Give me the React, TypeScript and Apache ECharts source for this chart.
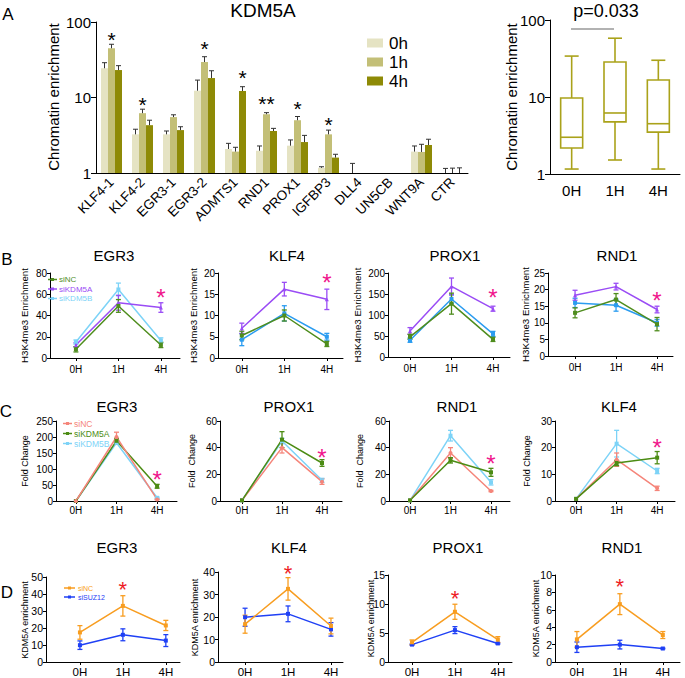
import React, { useEffect, useRef } from 'react';
import * as echarts from 'echarts';

const FONT = '"Liberation Sans", Arial, Helvetica, sans-serif';

// ---------- Panel A: bar chart (log scale) ----------
const barCategories = ['KLF4-1', 'KLF4-2', 'EGR3-1', 'EGR3-2', 'ADMTS1', 'RND1', 'PROX1', 'IGFBP3', 'DLL4', 'UN5CB', 'WNT9A', 'CTR'];
const bar0h = [24.4, 3.25, 3.25, 12.3, 2.08, 1.97, 2.3, 1.17, 1, 1, 1.92, 1];
const bar0hErrTop = [28.9, 3.8, 3.6, 17, 2.47, 2.28, 2.74, 1.21, 1.34, null, 2.28, 1.15];
const bar1h = [44.9, 6.2, 5.5, 29.5, 1.92, 6.0, 5.0, 3.25, 1, 1, 1.9, 1];
const bar1hErrTop = [50.7, 7.0, 5.9, 34.7, 2.19, 6.3, 5.6, 3.7, null, null, 2.4, 1.16];
const bar4h = [23.1, 4.3, 3.7, 18.1, 12.2, 3.6, 2.57, 1.6, 1, 1, 2.35, 1];
const bar4hErrTop = [26.4, 5.0, 4.1, 22.6, 13.9, 3.9, 3.15, 1.77, null, null, 2.8, 1.17];
// [category index, y position of star, bar slot (-1,0,1)]
const barStars: [number, number, number][] = [[0, 67, 0], [1, 9.3, 0], [3, 51, 0], [4, 21, 1], [5, 9.5, 0], [6, 8.2, 0], [7, 5.0, 0]];
const barStarTexts = ['*', '*', '*', '*', '**', '*', '*'];

// ---------- Panel A: box plot ----------
const boxCategories = ['0H', '1H', '4H'];
// [min, Q1, median, Q3, max]
const boxValues = [
  [1.16, 2.18, 3.0, 9.7, 34],
  [1.52, 4.75, 6.2, 28.5, 58],
  [1.16, 3.5, 4.5, 16.6, 30],
];

const timeLabels = ['0H', '1H', '4H'];

// ---------- Panel B: H3K4me3 enrichment ----------
const bEGR3_siNC = [8.2, 49, 12.3];
const bEGR3_siNC_err = [2.5, 6, 2.5];
const bEGR3_siKDM5A = [12.3, 52, 47.5];
const bEGR3_siKDM5A_err = [2, 7, 4.5];
const bEGR3_siKDM5B = [15, 64.5, 16.5];
const bEGR3_siKDM5B_err = [2, 6, 2.5];

const bKLF4_siNC = [5.3, 10, 3.3];
const bKLF4_siNC_err = [1, 1.3, 0.6];
const bKLF4_siKDM5A = [7, 16.2, 13.8];
const bKLF4_siKDM5A_err = [1.2, 1.6, 2.4];
const bKLF4_siKDM5B = [4.3, 10.5, 5];
const bKLF4_siKDM5B_err = [1.4, 1.8, 0.8];

const bPROX1_siNC = [48, 127, 42];
const bPROX1_siNC_err = [6, 25, 5];
const bPROX1_siKDM5A = [62, 168, 115];
const bPROX1_siKDM5A_err = [8, 20, 6];
const bPROX1_siKDM5B = [40, 138, 55];
const bPROX1_siKDM5B_err = [5, 10, 6];

const bRND1_siNC = [13, 17, 9.6];
const bRND1_siNC_err = [1.5, 1.8, 2];
const bRND1_siKDM5A = [18.3, 20.9, 14];
const bRND1_siKDM5A_err = [1.5, 1, 1];
const bRND1_siKDM5B = [16, 15.3, 10];
const bRND1_siKDM5B_err = [1.4, 1.8, 1];

// ---------- Panel C: fold change ----------
const cEGR3_siNC = [0, 200, 5];
const cEGR3_siNC_err = [0, 15, 1];
const cEGR3_siKDM5A = [0, 188, 46];
const cEGR3_siKDM5A_err = [0, 8, 6];
const cEGR3_siKDM5B = [0, 182, 10];
const cEGR3_siKDM5B_err = [0, 5, 2];

const cPROX1_siNC = [0.5, 40, 14.5];
const cPROX1_siNC_err = [0, 4, 2];
const cPROX1_siKDM5A = [0.5, 46, 28.5];
const cPROX1_siKDM5A_err = [0, 6, 2.5];
const cPROX1_siKDM5B = [0.5, 45, 15.5];
const cPROX1_siKDM5B_err = [0, 2, 1.5];

const cRND1_siNC = [0.5, 36, 7.5];
const cRND1_siNC_err = [0, 4, 0.5];
const cRND1_siKDM5A = [0.5, 30.5, 21.5];
const cRND1_siKDM5A_err = [0, 2, 3];
const cRND1_siKDM5B = [0.5, 49, 14];
const cRND1_siKDM5B_err = [0, 4, 2];

const cKLF4_siNC = [0.8, 15.5, 4.75];
const cKLF4_siNC_err = [0, 2.5, 0.8];
const cKLF4_siKDM5A = [0.8, 14.25, 16.25];
const cKLF4_siKDM5A_err = [0, 1, 2.3];
const cKLF4_siKDM5B = [0.8, 21.5, 11.25];
const cKLF4_siKDM5B_err = [0, 5, 1];

// ---------- Panel D: KDM5A enrichment ----------
const dEGR3_siNC = [17.4, 33, 21.5];
const dEGR3_siNC_err = [4, 6, 3];
const dEGR3_siSUZ12 = [9.9, 16, 12.6];
const dEGR3_siSUZ12_err = [2.5, 3.5, 3.5];

const dKLF4_siNC = [16.8, 32.5, 16];
const dKLF4_siNC_err = [4, 5, 3.5];
const dKLF4_siSUZ12 = [19.9, 21.4, 14.5];
const dKLF4_siSUZ12_err = [4, 3.5, 3];

const dPROX1_siNC = [3.4, 8.66, 3.87];
const dPROX1_siNC_err = [0.4, 1.3, 0.5];
const dPROX1_siSUZ12 = [3.0, 5.5, 3.2];
const dPROX1_siSUZ12_err = [0.1, 0.6, 0.1];

const dRND1_siNC = [2.6, 6.65, 3.1];
const dRND1_siNC_err = [0.9, 1.2, 0.4];
const dRND1_siSUZ12 = [1.7, 2.0, 1.55];
const dRND1_siSUZ12_err = [0.6, 0.5, 0.05];

// ---------- styles ----------
const GREEN_B = '#4f8d1e';
const PURPLE = '#9a4cf5';
const CYAN = '#7dd3f7';
const BLUE_B = '#2b9cf0';
const SALMON = '#f5857a';
const GREEN_C = '#4c8c14';
const ORANGE = '#f89d20';
const BLUE_D = '#1f40f5';
const PINK = '#f0168c';
const RED = '#ee1c25';
const OLIVE = '#aaa21a';

type SSeries = { name: string; color: string; values: number[]; errors: number[]; symbol: string };
type SChart = {
  title: string; titleX: number; titleY: number;
  ylabel: string; ylabelX: number; ylabelFont: number;
  left: number; right: number; top: number; bottom: number;
  xmin: number; xmax: number; ymax: number; yInterval: number;
  series: SSeries[]; star: [number, number]; starColor: string; starSize: number;
  tickFont: number; catFont: number; catMargin: number;
};

const mk = (name: string, color: string, values: number[], errors: number[], symbol = 'rect'): SSeries => ({ name, color, values, errors, symbol });

const smallCharts: SChart[] = [
  // Row B
  { title: 'EGR3', titleX: 114, titleY: 255, ylabel: 'H3K4me3 Enrichment', ylabelX: 24, ylabelFont: 9.7,
    left: 50, right: 180, top: 273, bottom: 358, xmin: -0.61, xmax: 2.45, ymax: 80, yInterval: 20,
    series: [mk('siKDM5B', CYAN, bEGR3_siKDM5B, bEGR3_siKDM5B_err), mk('siKDM5A', PURPLE, bEGR3_siKDM5A, bEGR3_siKDM5A_err, 'triangle'), mk('siNC', GREEN_B, bEGR3_siNC, bEGR3_siNC_err)],
    star: [2, 61], starColor: PINK, starSize: 24, tickFont: 10, catFont: 10, catMargin: 6 },
  { title: 'KLF4', titleX: 287, titleY: 255, ylabel: 'H3K4me3 Enrichment', ylabelX: 193, ylabelFont: 9.7,
    left: 218, right: 343, top: 273, bottom: 358, xmin: -0.56, xmax: 2.38, ymax: 20, yInterval: 5,
    series: [mk('siKDM5B', BLUE_B, bKLF4_siKDM5B, bKLF4_siKDM5B_err), mk('siKDM5A', PURPLE, bKLF4_siKDM5A, bKLF4_siKDM5A_err, 'triangle'), mk('siNC', GREEN_B, bKLF4_siNC, bKLF4_siNC_err)],
    star: [2, 18.8], starColor: PINK, starSize: 24, tickFont: 10, catFont: 10, catMargin: 6 },
  { title: 'PROX1', titleX: 455, titleY: 255, ylabel: 'H3K4me3 Enrichment', ylabelX: 357, ylabelFont: 9.7,
    left: 388, right: 510, top: 273, bottom: 357, xmin: -0.53, xmax: 2.41, ymax: 200, yInterval: 50,
    series: [mk('siKDM5B', BLUE_B, bPROX1_siKDM5B, bPROX1_siKDM5B_err), mk('siKDM5A', PURPLE, bPROX1_siKDM5A, bPROX1_siKDM5A_err, 'triangle'), mk('siNC', GREEN_B, bPROX1_siNC, bPROX1_siNC_err)],
    star: [2, 152], starColor: PINK, starSize: 24, tickFont: 10, catFont: 10, catMargin: 6 },
  { title: 'RND1', titleX: 617, titleY: 255, ylabel: 'H3K4me3 Enrichment', ylabelX: 525, ylabelFont: 9.7,
    left: 548, right: 673, top: 273, bottom: 356, xmin: -0.66, xmax: 2.39, ymax: 25, yInterval: 5,
    series: [mk('siKDM5B', BLUE_B, bRND1_siKDM5B, bRND1_siKDM5B_err), mk('siKDM5A', PURPLE, bRND1_siKDM5A, bRND1_siKDM5A_err, 'triangle'), mk('siNC', GREEN_B, bRND1_siNC, bRND1_siNC_err)],
    star: [2, 18.1], starColor: PINK, starSize: 24, tickFont: 10, catFont: 10, catMargin: 6 },
  // Row C
  { title: 'EGR3', titleX: 117, titleY: 406, ylabel: 'Fold Change', ylabelX: 25, ylabelFont: 9,
    left: 56, right: 177, top: 421, bottom: 501, xmin: -0.49, xmax: 2.49, ymax: 250, yInterval: 50,
    series: [mk('siKDM5B', CYAN, cEGR3_siKDM5B, cEGR3_siKDM5B_err), mk('siKDM5A', GREEN_C, cEGR3_siKDM5A, cEGR3_siKDM5A_err), mk('siNC', SALMON, cEGR3_siNC, cEGR3_siNC_err, 'circle')],
    star: [2, 81], starColor: PINK, starSize: 24, tickFont: 10, catFont: 10, catMargin: 4 },
  { title: 'PROX1', titleX: 289, titleY: 406, ylabel: 'Fold  Change', ylabelX: 192, ylabelFont: 9,
    left: 220, right: 342, top: 421, bottom: 501, xmin: -0.55, xmax: 2.5, ymax: 60, yInterval: 20,
    series: [mk('siKDM5B', CYAN, cPROX1_siKDM5B, cPROX1_siKDM5B_err), mk('siNC', SALMON, cPROX1_siNC, cPROX1_siNC_err, 'circle'), mk('siKDM5A', GREEN_C, cPROX1_siKDM5A, cPROX1_siKDM5A_err)],
    star: [2, 36], starColor: PINK, starSize: 24, tickFont: 10, catFont: 10, catMargin: 4 },
  { title: 'RND1', titleX: 457, titleY: 406, ylabel: 'Fold  Change', ylabelX: 360, ylabelFont: 9,
    left: 389, right: 510, top: 421, bottom: 501, xmin: -0.52, xmax: 2.47, ymax: 60, yInterval: 20,
    series: [mk('siKDM5B', CYAN, cRND1_siKDM5B, cRND1_siKDM5B_err), mk('siNC', SALMON, cRND1_siNC, cRND1_siNC_err, 'circle'), mk('siKDM5A', GREEN_C, cRND1_siKDM5A, cRND1_siKDM5A_err)],
    star: [2, 32], starColor: PINK, starSize: 24, tickFont: 10, catFont: 10, catMargin: 4 },
  { title: 'KLF4', titleX: 619, titleY: 406, ylabel: 'Fold Change', ylabelX: 527, ylabelFont: 9,
    left: 555, right: 675, top: 421, bottom: 501, xmin: -0.52, xmax: 2.44, ymax: 30, yInterval: 10,
    series: [mk('siKDM5B', CYAN, cKLF4_siKDM5B, cKLF4_siKDM5B_err), mk('siNC', SALMON, cKLF4_siNC, cKLF4_siNC_err, 'circle'), mk('siKDM5A', GREEN_C, cKLF4_siKDM5A, cKLF4_siKDM5A_err)],
    star: [2, 22], starColor: PINK, starSize: 24, tickFont: 10, catFont: 10, catMargin: 4 },
  // Row D
  { title: 'EGR3', titleX: 117, titleY: 547, ylabel: 'KDM5A enrichment', ylabelX: 25, ylabelFont: 9,
    left: 46, right: 180, top: 577, bottom: 663, xmin: -0.79, xmax: 2.33, ymax: 50, yInterval: 10,
    series: [mk('siSUZ12', BLUE_D, dEGR3_siSUZ12, dEGR3_siSUZ12_err), mk('siNC', ORANGE, dEGR3_siNC, dEGR3_siNC_err)],
    star: [1, 45.5], starColor: RED, starSize: 22, tickFont: 10.5, catFont: 11.5, catMargin: 4 },
  { title: 'KLF4', titleX: 289, titleY: 547, ylabel: 'KDM5A enrichment', ylabelX: 195, ylabelFont: 9,
    left: 218, right: 343, top: 572, bottom: 663, xmin: -0.63, xmax: 2.28, ymax: 40, yInterval: 10,
    series: [mk('siSUZ12', BLUE_D, dKLF4_siSUZ12, dKLF4_siSUZ12_err), mk('siNC', ORANGE, dKLF4_siNC, dKLF4_siNC_err)],
    star: [1, 41.5], starColor: RED, starSize: 22, tickFont: 10.5, catFont: 11.5, catMargin: 4 },
  { title: 'PROX1', titleX: 458, titleY: 547, ylabel: 'KDM5A enrichment', ylabelX: 371, ylabelFont: 9,
    left: 388, right: 512, top: 575, bottom: 662, xmin: -0.56, xmax: 2.33, ymax: 15, yInterval: 5,
    series: [mk('siSUZ12', BLUE_D, dPROX1_siSUZ12, dPROX1_siSUZ12_err), mk('siNC', ORANGE, dPROX1_siNC, dPROX1_siNC_err)],
    star: [1, 11.7], starColor: RED, starSize: 22, tickFont: 10.5, catFont: 11.5, catMargin: 4 },
  { title: 'RND1', titleX: 622, titleY: 547, ylabel: 'KDM5A enrichment', ylabelX: 536, ylabelFont: 9,
    left: 555, right: 680, top: 575, bottom: 662, xmin: -0.51, xmax: 2.4, ymax: 10, yInterval: 2,
    series: [mk('siSUZ12', BLUE_D, dRND1_siSUZ12, dRND1_siSUZ12_err), mk('siNC', ORANGE, dRND1_siNC, dRND1_siNC_err)],
    star: [1, 9.2], starColor: RED, starSize: 22, tickFont: 10.5, catFont: 11.5, catMargin: 4 },
];

function txt(text: string, x: number, y: number, fontSize: number, opts: any = {}) {
  return {
    type: 'text', x, y, rotation: opts.rotation || 0, z: 50,
    style: {
      text, fontSize, fontFamily: FONT, fill: opts.fill || '#000',
      align: opts.align || 'center', verticalAlign: 'middle',
      fontWeight: opts.fontWeight || 'normal',
    },
  };
}

function legendBlock(x1: number, x2: number, tx: number, ys: number[], items: { name: string; color: string }[], fs: number) {
  const out: any[] = [];
  items.forEach((it, i) => {
    const y = ys[i];
    out.push({ type: 'line', z: 50, shape: { x1, y1: y, x2, y2: y }, style: { stroke: it.color, lineWidth: 1.5 } });
    out.push({ type: 'rect', z: 50, shape: { x: (x1 + x2) / 2 - 1.5, y: y - 1.5, width: 3, height: 3 }, style: { fill: it.color } });
    out.push(txt(it.name, tx, y, fs, { fill: it.color, align: 'left' }));
  });
  return out;
}

function buildOption() {
  const grid: any[] = [];
  const xAxis: any[] = [];
  const yAxis: any[] = [];
  const series: any[] = [];
  const black = { color: '#000', width: 1 };

  // --- A bar chart ---
  grid.push({ left: 96, top: 22, width: 372, height: 151 });
  xAxis.push({
    type: 'category', gridIndex: 0, data: barCategories,
    axisLine: { lineStyle: black },
    axisTick: { alignWithLabel: true, length: 4, lineStyle: black, interval: 0 },
    axisLabel: { rotate: 45, fontSize: 13.5, color: '#000', fontFamily: FONT, margin: 7, interval: 0 },
  });
  yAxis.push({
    type: 'log', logBase: 10, gridIndex: 0, min: 1, max: 100,
    axisLine: { show: true, lineStyle: black },
    axisTick: { show: true, length: 5, lineStyle: black },
    axisLabel: { fontSize: 15, color: '#000', fontFamily: FONT, margin: 5 },
    splitLine: { show: false },
  });
  const barDefs = [
    { name: '0h', color: '#e5e3c3', values: bar0h, tops: bar0hErrTop, slot: -1 },
    { name: '1h', color: '#c3bf77', values: bar1h, tops: bar1hErrTop, slot: 0 },
    { name: '4h', color: '#8e8a06', values: bar4h, tops: bar4hErrTop, slot: 1 },
  ];
  const BW = 7;
  barDefs.forEach((d) => {
    series.push({ type: 'bar', name: d.name, xAxisIndex: 0, yAxisIndex: 0, data: d.values, barWidth: BW, barGap: '0%', itemStyle: { color: d.color } });
  });
  barDefs.forEach((d) => {
    const data: number[][] = [];
    d.tops.forEach((t, i) => { if (t != null) data.push([i, d.values[i], t as number]); });
    series.push({
      type: 'custom', xAxisIndex: 0, yAxisIndex: 0, data, encode: { x: 0, y: [1, 2] }, z: 3,
      renderItem: (_p: any, api: any) => {
        const a = api.coord([api.value(0), api.value(1)]);
        const b = api.coord([api.value(0), api.value(2)]);
        const x = a[0] + d.slot * BW;
        const st = { stroke: '#333', lineWidth: 1 };
        return { type: 'group', children: [
          { type: 'line', shape: { x1: x, y1: a[1], x2: x, y2: b[1] }, style: st },
          { type: 'line', shape: { x1: x - 2.5, y1: b[1], x2: x + 2.5, y2: b[1] }, style: st },
        ] };
      },
    });
  });
  series.push({
    type: 'custom', xAxisIndex: 0, yAxisIndex: 0, data: barStars, encode: { x: 0, y: 1 }, z: 4,
    renderItem: (p: any, api: any) => {
      const pt = api.coord([api.value(0), api.value(1)]);
      const fs = 21;
      return { type: 'text', x: pt[0] + api.value(2) * BW, y: pt[1] + fs * 0.2,
        style: { text: barStarTexts[p.dataIndex], fontSize: fs, fontFamily: FONT, fill: '#000', align: 'center', verticalAlign: 'middle' } };
    },
  });

  // --- A box plot ---
  grid.push({ left: 550, top: 20, width: 130, height: 154 });
  xAxis.push({
    type: 'category', gridIndex: 1, data: boxCategories,
    axisLine: { lineStyle: black },
    axisTick: { alignWithLabel: true, length: 4, lineStyle: black },
    axisLabel: { fontSize: 15, color: '#000', fontFamily: FONT, margin: 9 },
  });
  yAxis.push({
    type: 'log', logBase: 10, gridIndex: 1, min: 1, max: 100,
    axisLine: { show: true, lineStyle: black },
    axisTick: { show: true, length: 5, lineStyle: black },
    axisLabel: { fontSize: 15, color: '#000', fontFamily: FONT, margin: 5 },
    splitLine: { show: false },
  });
  series.push({
    type: 'custom', xAxisIndex: 1, yAxisIndex: 1,
    data: boxValues.map((b, i) => [i, ...b]), encode: { x: 0, y: [1, 2, 3, 4, 5] },
    renderItem: (_p: any, api: any) => {
      const i = api.value(0);
      const y = (k: number) => api.coord([i, api.value(k)])[1];
      const x = api.coord([i, api.value(3)])[0];
      const hw = 11, cw = 7;
      const st = { stroke: OLIVE, lineWidth: 1.6, fill: 'none' };
      const lo = y(1), q1 = y(2), md = y(3), q3 = y(4), hi = y(5);
      return { type: 'group', children: [
        { type: 'rect', shape: { x: x - hw, y: q3, width: hw * 2, height: q1 - q3 }, style: { stroke: OLIVE, lineWidth: 1.6, fill: '#fff' } },
        { type: 'line', shape: { x1: x - hw, y1: md, x2: x + hw, y2: md }, style: st },
        { type: 'line', shape: { x1: x, y1: q3, x2: x, y2: hi }, style: st },
        { type: 'line', shape: { x1: x, y1: q1, x2: x, y2: lo }, style: st },
        { type: 'line', shape: { x1: x - cw, y1: hi, x2: x + cw, y2: hi }, style: st },
        { type: 'line', shape: { x1: x - cw, y1: lo, x2: x + cw, y2: lo }, style: st },
      ] };
    },
  });

  const graphics: any[] = [];

  // --- small charts ---
  smallCharts.forEach((c) => {
    const gi = grid.length;
    grid.push({ left: c.left, top: c.top, width: c.right - c.left, height: c.bottom - c.top });
    xAxis.push({
      type: 'value', gridIndex: gi, min: c.xmin, max: c.xmax,
      splitLine: { show: false },
      axisLine: { show: true, onZero: false, lineStyle: black },
      axisTick: { show: true, customValues: [0, 1, 2], length: 3, lineStyle: black },
      axisLabel: { customValues: [0, 1, 2], formatter: (v: number) => timeLabels[Math.round(v)] || '', fontSize: c.catFont, color: '#000', fontFamily: FONT, margin: c.catMargin },
    });
    yAxis.push({
      type: 'value', gridIndex: gi, min: 0, max: c.ymax, interval: c.yInterval,
      splitLine: { show: false },
      axisLine: { show: true, onZero: false, lineStyle: black },
      axisTick: { show: true, length: 3, lineStyle: black },
      axisLabel: { fontSize: c.tickFont, color: '#000', fontFamily: FONT, margin: 3 },
    });
    c.series.forEach((s) => {
      series.push({
        type: 'line', name: s.name, xAxisIndex: gi, yAxisIndex: gi,
        data: s.values.map((v, i) => [i, v]),
        symbol: s.symbol, symbolSize: 4, showSymbol: true, clip: false,
        lineStyle: { width: 1.5, color: s.color }, itemStyle: { color: s.color }, z: 3,
      });
      const eb: number[][] = [];
      s.values.forEach((v, i) => { if (s.errors[i] > 0) eb.push([i, v - s.errors[i], v + s.errors[i]]); });
      series.push({
        type: 'custom', xAxisIndex: gi, yAxisIndex: gi, data: eb, encode: { x: 0, y: [1, 2] }, z: 3,
        renderItem: (_p: any, api: any) => {
          const a = api.coord([api.value(0), api.value(1)]);
          const b = api.coord([api.value(0), api.value(2)]);
          const st = { stroke: s.color, lineWidth: 1.3 };
          return { type: 'group', children: [
            { type: 'line', shape: { x1: a[0], y1: a[1], x2: b[0], y2: b[1] }, style: st },
            { type: 'line', shape: { x1: a[0] - 2.5, y1: a[1], x2: a[0] + 2.5, y2: a[1] }, style: st },
            { type: 'line', shape: { x1: b[0] - 2.5, y1: b[1], x2: b[0] + 2.5, y2: b[1] }, style: st },
          ] };
        },
      });
    });
    series.push({
      type: 'custom', xAxisIndex: gi, yAxisIndex: gi, data: [c.star], encode: { x: 0, y: 1 }, z: 4,
      renderItem: (_p: any, api: any) => {
        const pt = api.coord([api.value(0), api.value(1)]);
        return { type: 'text', x: pt[0], y: pt[1] + c.starSize * 0.2,
          style: { text: '*', fontSize: c.starSize, fontFamily: FONT, fill: c.starColor, align: 'center', verticalAlign: 'middle' } };
      },
    });
    graphics.push(txt(c.title, c.titleX, c.titleY, 15));
    graphics.push(txt(c.ylabel, c.ylabelX, (c.top + c.bottom) / 2, c.ylabelFont, { rotation: Math.PI / 2 }));
  });

  // --- panel A texts ---
  graphics.push(txt('A', 8, 14, 17));
  graphics.push(txt('B', 7, 259, 17));
  graphics.push(txt('C', 6, 411, 17));
  graphics.push(txt('D', 7, 592, 17));
  graphics.push(txt('KDM5A', 263, 10, 19));
  graphics.push(txt('Chromatin enrichment', 53, 97, 15, { rotation: Math.PI / 2 }));
  graphics.push(txt('Chromatin enrichment', 511, 97, 15, { rotation: Math.PI / 2 }));
  graphics.push(txt('p=0.033', 606, 11, 18));
  graphics.push({ type: 'line', z: 50, shape: { x1: 571, y1: 29, x2: 614, y2: 29 }, style: { stroke: '#999', lineWidth: 1.5 } });
  // A legend
  barDefs.forEach((d, i) => {
    const yc = 43 + i * 19;
    graphics.push({ type: 'rect', z: 50, shape: { x: 367, y: yc - 4.5, width: 16, height: 9 }, style: { fill: d.color } });
    graphics.push(txt(d.name, 389, yc, 17, { align: 'left' }));
  });
  // B legend
  graphics.push(...legendBlock(48, 57, 59, [279.5, 289, 298.5], [
    { name: 'siNC', color: GREEN_B }, { name: 'siKDM5A', color: PURPLE }, { name: 'siKDM5B', color: CYAN },
  ], 8));
  // C legend
  graphics.push(...legendBlock(63, 72, 74, [423.5, 433.5, 443.5], [
    { name: 'siNC', color: SALMON }, { name: 'siKDM5A', color: GREEN_C }, { name: 'siKDM5B', color: CYAN },
  ], 8.5));
  // D legend
  graphics.push(...legendBlock(64, 75, 78, [588, 597], [
    { name: 'siNC', color: ORANGE }, { name: 'siSUZ12', color: BLUE_D },
  ], 7));

  return {
    animation: false,
    backgroundColor: '#fff',
    textStyle: { fontFamily: FONT },
    grid, xAxis, yAxis, series,
    graphic: { elements: graphics },
  };
}

export default function App() {
  const ref = useRef<HTMLDivElement>(null);
  useEffect(() => {
    if (!ref.current) return;
    const chart = echarts.init(ref.current, null, { renderer: 'svg' });
    chart.setOption(buildOption() as any);
    return () => chart.dispose();
  }, []);
  return <div ref={ref} style={{ position: 'absolute', left: 0, top: 0, width: 685, height: 678, background: '#fff' }} />;
}
